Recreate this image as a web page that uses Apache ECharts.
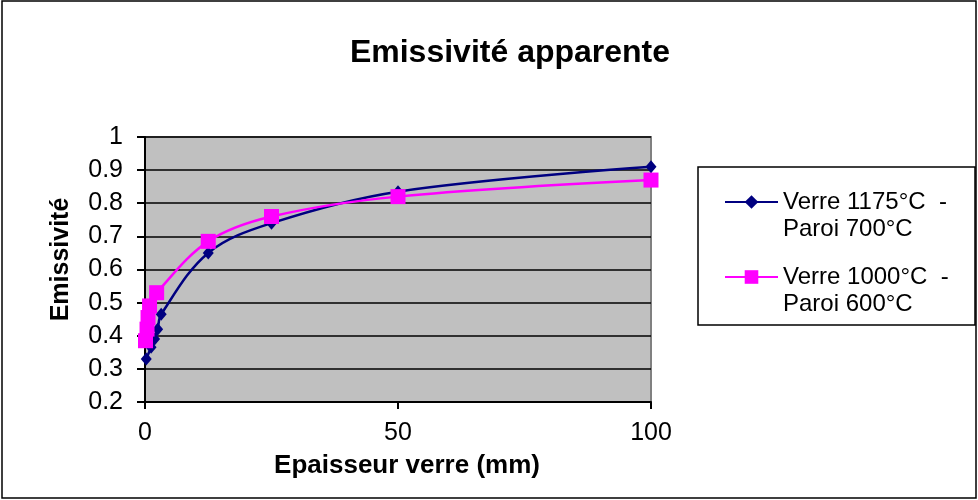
<!DOCTYPE html>
<html>
<head>
<meta charset="utf-8">
<script src="https://cdn.jsdelivr.net/npm/echarts@6/dist/echarts.min.js"></script>
<style>
  html, body { margin: 0; padding: 0; background: #fff; }
  #chart { width: 978px; height: 500px; }
</style>
</head>
<body>
<div id="chart"></div>
<script>
// Glass thickness (mm) and apparent emissivity for the two furnace configurations
const thicknessA = [0.25, 1.2, 1.9, 2.5, 3.2, 12.5, 25, 50, 100];
const emissivityA = [0.33, 0.365, 0.39, 0.42, 0.465, 0.65, 0.74, 0.835, 0.91];
const thicknessB = [0.1, 0.4, 0.6, 0.9, 2.3, 12.5, 25, 50, 100];
const emissivityB = [0.385, 0.42, 0.455, 0.49, 0.53, 0.685, 0.76, 0.82, 0.87];

const seriesLines = [
  ['Verre 1175°C  -', 'Paroi 700°C'],
  ['Verre 1000°C  -', 'Paroi 600°C']
];
const seriesNames = seriesLines.map(l => l.join(' '));
const yTicks = { min: 0.2, max: 1, step: 0.1 };
const xTicks = { min: 0, max: 100, step: 50 };

const pairs = (xs, ys) => xs.map((x, i) => [x, ys[i]]);

const FONT = '"Liberation Sans", Arial, sans-serif';

const chart = echarts.init(document.getElementById('chart'), null, { renderer: 'canvas' });

chart.setOption({
  animation: false,
  backgroundColor: '#ffffff',
  textStyle: { fontFamily: FONT },
  title: {
    text: 'Emissivité apparente',
    left: 505,
    textAlign: 'center',
    top: 32,
    textStyle: { fontFamily: FONT, fontSize: 32, fontWeight: 'bold', color: '#000' }
  },
  grid: {
    left: 145, right: 327, top: 137, bottom: 98,
    show: true,
    backgroundColor: '#C0C0C0',
    borderColor: '#808080',
    borderWidth: 2
  },
  xAxis: {
    type: 'value',
    min: xTicks.min, max: xTicks.max, interval: xTicks.step,
    name: 'Epaisseur verre (mm)',
    nameLocation: 'middle',
    nameGap: 51,
    nameTextStyle: { fontFamily: FONT, fontSize: 26, fontWeight: 'bold', color: '#000', padding: [0, 0, 0, 18] },
    axisLine: { show: true, onZero: false, lineStyle: { color: '#000', width: 2 } },
    axisTick: { show: true, inside: false, length: 7, lineStyle: { color: '#000', width: 2 } },
    axisLabel: { margin: 19, fontFamily: FONT, fontSize: 25, color: '#000' },
    splitLine: { show: false }
  },
  yAxis: {
    type: 'value',
    min: yTicks.min, max: yTicks.max, interval: yTicks.step,
    name: 'Emissivité',
    nameLocation: 'middle',
    nameGap: 71,
    nameTextStyle: { fontFamily: FONT, fontSize: 25, fontWeight: 'bold', color: '#000', padding: [0, 0, 0, 20] },
    axisLine: { show: true, onZero: false, lineStyle: { color: '#000', width: 2 } },
    axisTick: { show: true, inside: false, length: 8, lineStyle: { color: '#000', width: 2 } },
    axisLabel: { margin: 22, fontFamily: FONT, fontSize: 25, color: '#000' },
    splitLine: { show: true, lineStyle: { color: '#000', width: 1.5 } }
  },
  legend: {
    orient: 'vertical',
    left: 724,
    top: 163,
    padding: 0,
    itemGap: -3,
    itemWidth: 53,
    itemHeight: 17,
    data: seriesNames,
    // first (blank) row keeps the symbol level with the first text row
    formatter: name => {
      const lines = seriesLines[seriesNames.indexOf(name)];
      return '{gap| }\n{t|' + lines[0] + '}\n{t|' + lines[1] + '}';
    },
    textStyle: {
      fontFamily: FONT, fontSize: 24, color: '#000',
      rich: {
        gap: { fontFamily: FONT, fontSize: 24, lineHeight: 27 },
        t: { fontFamily: FONT, fontSize: 24, lineHeight: 27, color: '#000' }
      }
    }
  },
  series: [
    {
      name: seriesNames[0],
      type: 'line',
      smooth: 0.35,
      data: pairs(thicknessA, emissivityA),
      symbol: 'diamond',
      symbolSize: [11, 13],
      itemStyle: { color: '#000080' },
      lineStyle: { color: '#000080', width: 2.5 },
      z: 2
    },
    {
      name: seriesNames[1],
      type: 'line',
      smooth: 0.35,
      data: pairs(thicknessB, emissivityB),
      symbol: 'rect',
      symbolSize: 15,
      itemStyle: { color: '#FF00FF' },
      lineStyle: { color: '#FF00FF', width: 2.5 },
      z: 3
    }
  ],
  graphic: [
    {
      type: 'rect',
      shape: { x: 2, y: 1, width: 974, height: 497 },
      style: { fill: 'none', stroke: '#000', lineWidth: 1.5 },
      silent: true
    },
    {
      type: 'rect',
      shape: { x: 698, y: 167, width: 277, height: 158 },
      style: { fill: 'none', stroke: '#000', lineWidth: 1.5 },
      silent: true
    }
  ]
});
</script>
</body>
</html>
